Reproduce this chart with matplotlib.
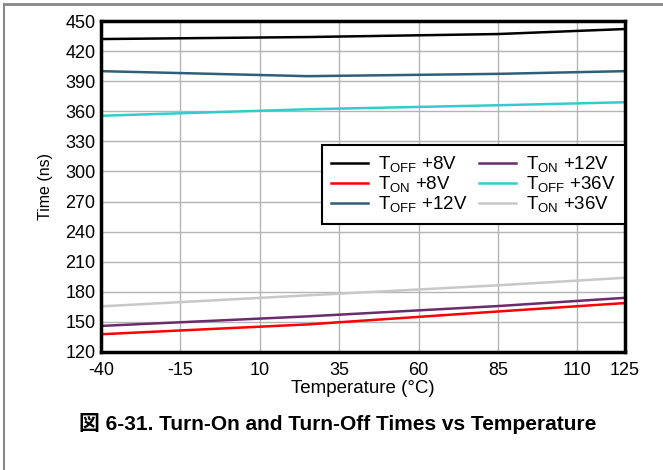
import matplotlib
matplotlib.use("Agg")
import matplotlib.pyplot as plt
from matplotlib.lines import Line2D

plt.rcParams['font.family'] = ['Liberation Sans', 'Noto Sans CJK JP', 'DejaVu Sans']
plt.rcParams['mathtext.fontset'] = 'custom'
plt.rcParams['mathtext.rm'] = 'Liberation Sans'
plt.rcParams['mathtext.it'] = 'Liberation Sans'
plt.rcParams['axes.unicode_minus'] = False

temps = [-40, 25, 85, 125]
toff_8v = [432, 434, 437, 442]
ton_8v = [137.7, 147.5, 160.4, 168.8]
toff_12v = [400, 395, 397.3, 400]
ton_12v = [146, 155.5, 165.8, 174]
toff_36v = [355.5, 362, 366, 369]
ton_36v = [165.5, 176.5, 186.5, 194]

series = [
    (r"T$_{\mathrm{OFF}}$ +8V", toff_8v, "#000000"),
    (r"T$_{\mathrm{ON}}$ +8V", ton_8v, "#ff0000"),
    (r"T$_{\mathrm{OFF}}$ +12V", toff_12v, "#2f5f78"),
    (r"T$_{\mathrm{ON}}$ +12V", ton_12v, "#6a2c6a"),
    (r"T$_{\mathrm{OFF}}$ +36V", toff_36v, "#33cccc"),
    (r"T$_{\mathrm{ON}}$ +36V", ton_36v, "#c8c8c8"),
]

xticks = [-40, -15, 10, 35, 60, 85, 110, 125]
yticks = list(range(120, 451, 30))

fig = plt.figure(figsize=(6.63, 4.70), dpi=100)
ax = fig.add_axes([101/663, 1-352/470, (625-101)/663, (352-21)/470])

for label, vals, color in series:
    ax.plot(temps, vals, color=color, lw=1.8, label=label)

ax.set_xlim(-40, 125)
ax.set_ylim(120, 450)
ax.set_xticks(xticks)
ax.set_yticks(yticks)
ax.grid(True, color="#b4b4b4", lw=1.0)
ax.set_axisbelow(True)
for s in ax.spines.values():
    s.set_linewidth(2.5)
    s.set_color("black")
ax.tick_params(length=0, labelsize=13)
ax.tick_params(axis="x", pad=7)
ax.tick_params(axis="y", pad=4)
ax.set_xlabel("Temperature (°C)", fontsize=13.5, labelpad=1)
ax.set_ylabel("Time (ns)", fontsize=11.5, labelpad=9)

leg = ax.legend(ncol=2, loc="upper right", bbox_to_anchor=(1.0, 0.625),
                borderaxespad=0, fancybox=False, framealpha=1, edgecolor="black",
                fontsize=13.5, handlelength=1.95, columnspacing=0.6,
                labelspacing=0.0, borderpad=0.5, handletextpad=0.55)
leg.get_frame().set_linewidth(1.5)

fig.text(338/663, 1-423/470, "図 6-31. Turn-On and Turn-Off Times vs Temperature",
         ha="center", va="center", fontsize=15, fontweight="bold")

fig.add_artist(Line2D([4/663, 1.0], [1-4/470, 1-4/470], color="#888888", lw=2,
                      transform=fig.transFigure))
fig.add_artist(Line2D([4/663, 4/663], [0, 1-4/470], color="#888888", lw=1.5,
                      transform=fig.transFigure))

fig.savefig("out.png", dpi=100)
